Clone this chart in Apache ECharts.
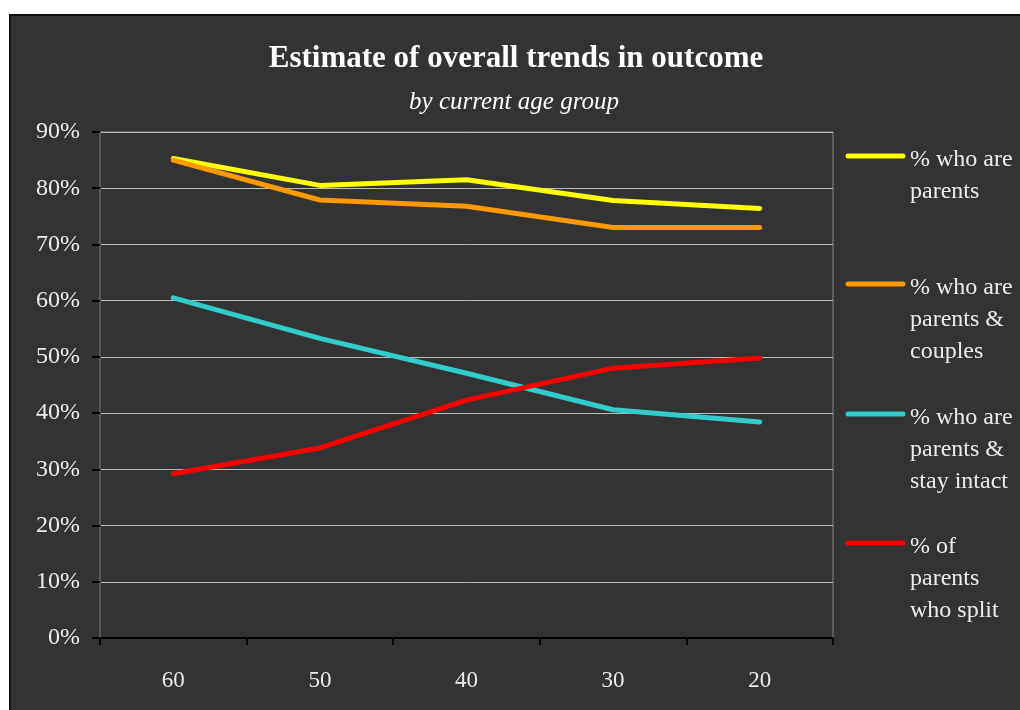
<!DOCTYPE html>
<html>
<head>
<meta charset="utf-8">
<script src="https://cdn.jsdelivr.net/npm/echarts@6/dist/echarts.min.js"></script>
<style>
  html, body { margin: 0; padding: 0; background: #ffffff; }
  #panel {
    position: absolute; left: 9px; top: 14px; width: 1011px; height: 696px;
    background: #333333; border-left: 2px solid #111; border-top: 2px solid #111;
    box-sizing: border-box;
  }
  #chart { position: absolute; left: 0; top: 0; width: 1020px; height: 710px; }
</style>
</head>
<body>
<div id="panel"></div>
<div id="chart"></div>
<script>
// Age groups (current age) along the horizontal axis
const ageGroups = ['60', '50', '40', '30', '20'];

// Percentages per age group
const pctParents        = [85.3, 80.5, 81.5, 77.8, 76.4];
const pctParentsCouples = [85.0, 77.9, 76.8, 73.0, 73.0];
const pctParentsIntact  = [60.5, 53.3, 47.1, 40.6, 38.4];
const pctParentsSplit   = [29.2, 33.8, 42.3, 48.0, 49.8];

const seriesNames = [
  '% who are\nparents',
  '% who are\nparents &\ncouples',
  '% who are\nparents &\nstay intact',
  '% of\nparents\nwho split'
];
const seriesColors = ['#ffff00', '#ff9900', '#33cccc', '#ff0000'];
const seriesData = [pctParents, pctParentsCouples, pctParentsIntact, pctParentsSplit];

const yTicks = [0, 10, 20, 30, 40, 50, 60, 70, 80, 90];

const serif = "'Liberation Serif', 'DejaVu Serif', serif";
const textColor = '#ececec';

const chart = echarts.init(document.getElementById('chart'), null, { renderer: 'canvas' });

// Legend built as graphic items: a short line swatch plus wrapped label
const legendTops = [156, 284, 414, 543];
const legendGraphics = [];
seriesNames.forEach((name, i) => {
  legendGraphics.push({
    type: 'line',
    shape: { x1: 848, y1: legendTops[i], x2: 903, y2: legendTops[i] },
    style: { stroke: seriesColors[i], lineWidth: 5, lineCap: 'round' }
  });
  legendGraphics.push({
    type: 'text',
    x: 910,
    y: legendTops[i] - 12,
    style: {
      text: name,
      font: '24px ' + serif,
      fill: textColor,
      lineHeight: 32,
      textVerticalAlign: 'top'
    }
  });
});

const option = {
  backgroundColor: 'transparent',
  animation: false,
  graphic: [
    {
      type: 'text', x: 516, y: 59,
      style: {
        text: 'Estimate of overall trends in outcome',
        font: 'bold 31px ' + serif, fill: '#ffffff',
        textAlign: 'center', textVerticalAlign: 'middle'
      }
    },
    {
      type: 'text', x: 514, y: 102,
      style: {
        text: 'by current age group',
        font: 'italic 25px ' + serif, fill: '#ffffff',
        textAlign: 'center', textVerticalAlign: 'middle'
      }
    }
  ].concat(legendGraphics),
  grid: {
    left: 100, right: 187, top: 132, bottom: 72,
    show: true, borderColor: '#8a8a8a', borderWidth: 1, backgroundColor: 'transparent'
  },
  xAxis: {
    type: 'category',
    data: ageGroups,
    boundaryGap: true,
    axisLine: { show: true, lineStyle: { color: '#000000', width: 2 } },
    axisTick: { show: true, length: 7, lineStyle: { color: '#000000', width: 2 } },
    axisLabel: { color: textColor, fontFamily: serif, fontSize: 23, margin: 31 },
    splitLine: { show: false }
  },
  yAxis: {
    type: 'value',
    min: yTicks[0], max: yTicks[yTicks.length - 1], interval: 10,
    axisLine: { show: true, lineStyle: { color: '#555555', width: 1 } },
    axisTick: { show: true, length: 8, lineStyle: { color: '#000000', width: 2 } },
    axisLabel: {
      color: textColor, fontFamily: serif, fontSize: 24, margin: 20,
      formatter: v => v + '%'
    },
    splitLine: { show: true, lineStyle: { color: '#bdbdbd', width: 1 } }
  },
  series: seriesData.map((data, i) => ({
    name: seriesNames[i],
    type: 'line',
    data: data,
    symbol: 'none',
    lineStyle: { color: seriesColors[i], width: 5, cap: 'round', join: 'round' },
    itemStyle: { color: seriesColors[i] }
  }))
};

chart.setOption(option);
</script>
</body>
</html>
